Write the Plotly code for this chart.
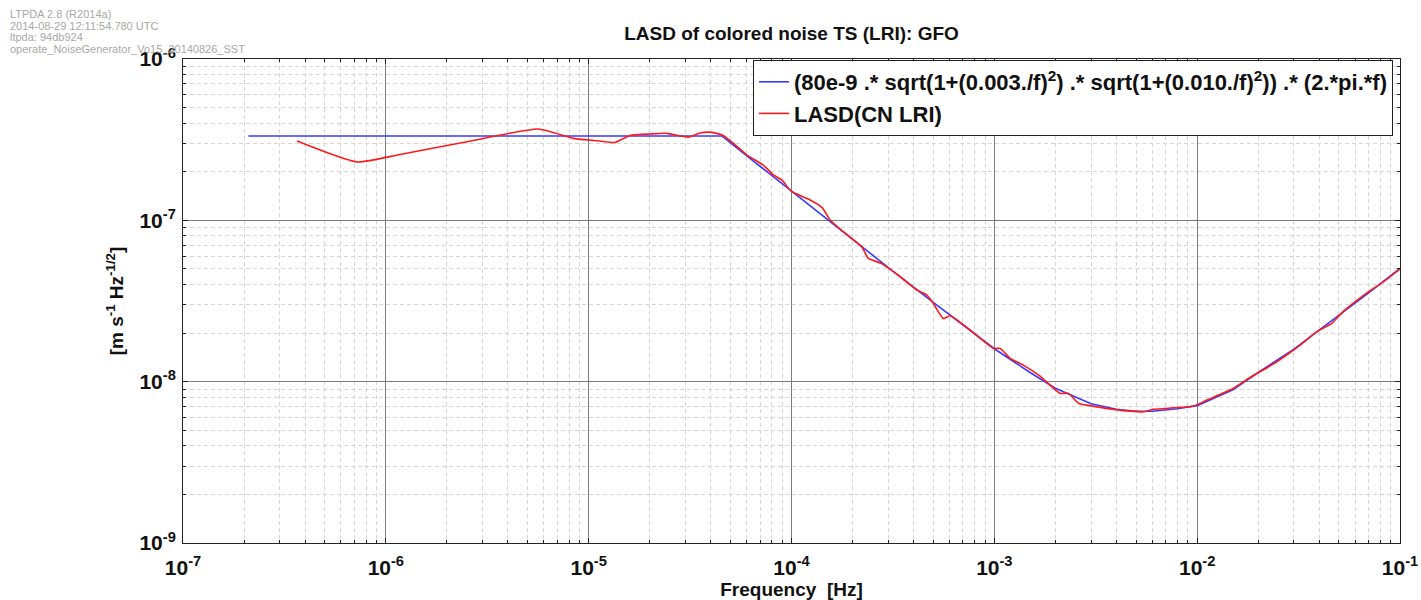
import plotly.graph_objects as go

# ---- data ----
model_f = [2.1e-7, 1e-6, 1e-5, 4.55e-5, 6e-5, 8e-5, 1e-4, 1.5e-4, 2e-4, 3e-4, 5e-4, 7e-4,
           1e-3, 1.5e-3, 2e-3, 3e-3, 4e-3, 5e-3, 6e-3, 8e-3, 1e-2, 1.5e-2, 2e-2, 3e-2,
           5e-2, 7e-2, 1e-1]
model_v = [3.33e-7, 3.33e-7, 3.33e-7, 3.33e-7, 2.52e-7, 1.89e-7, 1.51e-7, 1.01e-7, 7.6e-8,
           5.1e-8, 3.1e-8, 2.25e-8, 1.60e-8, 1.14e-8, 9.1e-9, 7.3e-9, 6.75e-9, 6.55e-9,
           6.55e-9, 6.8e-9, 7.1e-9, 8.9e-9, 1.14e-8, 1.59e-8, 2.56e-8, 3.55e-8, 5.03e-8]

lasd_f = [3.65e-7, 7.21e-7, 1.175e-6, 2.51e-6, 5.65e-6, 8.41e-6, 1.138e-5, 1.349e-5, 1.60e-5,
          2.01e-5, 2.43e-5, 3.10e-5, 3.54e-5, 4.05e-5, 4.60e-5, 5.18e-5, 6.03e-5, 7.26e-5,
          8.15e-5, 8.95e-5, 1.00e-4, 1.21e-4, 1.416e-4, 1.55e-4, 1.80e-4, 2.22e-4, 2.39e-4,
          2.77e-4, 3.44e-4, 4.15e-4, 4.65e-4, 4.99e-4, 5.61e-4, 6.05e-4, 7.60e-4, 9.91e-4,
          1.07e-3, 1.197e-3, 1.39e-3, 1.68e-3, 2.11e-3, 2.32e-3, 2.60e-3, 3.33e-3, 4.34e-3,
          5.43e-3, 6.10e-3, 9.59e-3, 1.117e-2, 1.503e-2, 1.815e-2, 2.47e-2, 3.22e-2, 3.89e-2,
          4.61e-2, 5.24e-2, 6.82e-2, 8.09e-2, 1.0e-1]
lasd_v = [3.10e-7, 2.30e-7, 2.56e-7, 3.07e-7, 3.68e-7, 3.22e-7, 3.10e-7, 3.04e-7, 3.36e-7,
          3.43e-7, 3.46e-7, 3.28e-7, 3.48e-7, 3.51e-7, 3.36e-7, 3.00e-7, 2.54e-7, 2.20e-7,
          1.91e-7, 1.78e-7, 1.51e-7, 1.355e-7, 1.20e-7, 1.005e-7, 8.50e-8, 6.86e-8, 5.81e-8,
          5.41e-8, 4.47e-8, 3.70e-8, 3.44e-8, 3.07e-8, 2.46e-8, 2.56e-8, 2.09e-8, 1.608e-8,
          1.608e-8, 1.394e-8, 1.267e-8, 1.083e-8, 8.46e-9, 8.46e-9, 7.34e-9, 6.93e-9, 6.61e-9,
          6.51e-9, 6.74e-9, 7.06e-9, 7.69e-9, 9.07e-9, 1.058e-8, 1.328e-8, 1.686e-8, 2.04e-8,
          2.30e-8, 2.72e-8, 3.53e-8, 4.07e-8, 4.99e-8]

x_decades = [-7, -6, -5, -4, -3, -2, -1]
y_decades = [-9, -8, -7, -6]

model_name = ("<b>(80e-9 .* sqrt(1+(0.003./f)<sup>2</sup>) .* sqrt(1+(0.010./f)<sup>2</sup>))"
              " .* (2.*pi.*f)</b>")
lasd_name = "<b>LASD(CN LRI)</b>"

info_lines = ["LTPDA 2.8 (R2014a)", "2014-08-29 12:11:54.780 UTC", "ltpda: 94db924",
              "operate_NoiseGenerator_Vo15_20140826_SST"]

# ---- figure ----
FONT = "Liberation Sans, Arial, sans-serif"
L, R, T, B = 183, 21, 59, 57
W, H = 1421, 600
pw, ph = W - L - R, H - T - B

def minor_vals(decs):
    return [m * 10.0 ** d for d in decs[:-1] for m in range(2, 10)]

def labels(decs):
    return ["<b>10<sup>%d</sup></b>" % d for d in decs]

fig = go.Figure()
fig.add_trace(go.Scatter(x=model_f, y=model_v, mode="lines", name=model_name,
                         line=dict(color="#3a3aff", width=1.6)))
fig.add_trace(go.Scatter(x=lasd_f, y=lasd_v, mode="lines", name=lasd_name,
                         line=dict(color="#ff1a1a", width=1.6, shape="spline", smoothing=0.5)))

axis_common = dict(
    type="log", showline=True, linecolor="#222", linewidth=1, mirror="allticks",
    ticks="inside", ticklen=5, tickcolor="#222",
    showgrid=True, gridcolor="#7d7d7d", gridwidth=1,
    tickfont=dict(family=FONT, size=21, color="#111"),
    zeroline=False, automargin=False,
)

minor_common = dict(tickmode="array", ticks="inside", ticklen=3, tickcolor="#222",
                    showgrid=True, gridcolor="#d6d6d6", griddash="4px,3px")

fig.update_xaxes(
    **axis_common, range=[-7, -1],
    tickmode="array", tickvals=[10.0 ** d for d in x_decades], ticktext=labels(x_decades),
    ticklabelstandoff=6,
    minor=dict(**minor_common, tickvals=minor_vals(x_decades)),
    title=dict(text="<b>Frequency  [Hz]</b>", font=dict(family=FONT, size=19, color="#111"),
               standoff=0),
)
fig.update_yaxes(
    **axis_common, range=[-9, -6],
    tickmode="array", tickvals=[10.0 ** d for d in y_decades], ticktext=labels(y_decades),
    ticklabelstandoff=2,
    minor=dict(**minor_common, tickvals=minor_vals(y_decades)),
    title=dict(text="<b>[m s<sup>-1</sup> Hz<sup>-1/2</sup>]</b>",
               font=dict(family=FONT, size=19, color="#111"), standoff=10),
)

annotations = []
for i, txt in enumerate(info_lines):
    annotations.append(dict(
        text=txt, xref="paper", yref="paper",
        x=(8 - L) / pw, y=1 + (T - (6 + 11.6 * i)) / ph,
        xanchor="left", yanchor="top", showarrow=False,
        font=dict(family=FONT, size=11, color="#a8a8a8"),
    ))

fig.update_layout(
    width=W, height=H,
    margin=dict(l=L, r=R, t=T, b=B),
    paper_bgcolor="white", plot_bgcolor="white",
    title=dict(text="<b>LASD of colored noise TS (LRI): GFO</b>", x=(L + pw / 2) / W,
               xanchor="center", y=1 - 33 / H, yanchor="middle",
               font=dict(family=FONT, size=19, color="#111")),
    legend=dict(x=(1393 - L) / pw, xanchor="right", y=1 - 1 / ph, yanchor="top",
                bgcolor="white", bordercolor="#222", borderwidth=1,
                font=dict(family=FONT, size=22, color="#111"),
                tracegroupgap=0, itemwidth=30),
    annotations=annotations,
    showlegend=True,
)

fig.write_html("out.html")
